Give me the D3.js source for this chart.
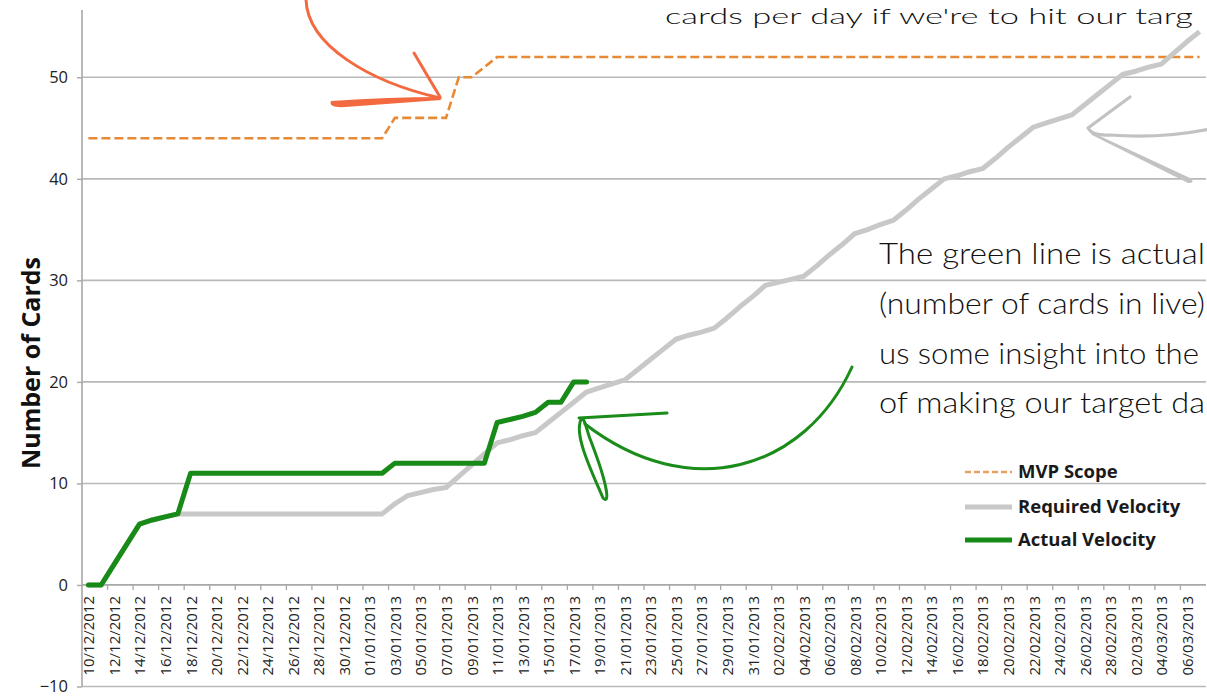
<!DOCTYPE html>
<html>
<head>
<meta charset="utf-8">
<script src="https://cdn.jsdelivr.net/npm/d3@7/dist/d3.min.js"></script>
<style>
  html, body { margin: 0; padding: 0; background: #fff; }
  svg { display: block; }
</style>
</head>
<body>
<svg id="chart" width="1207" height="696"></svg>
<script>
// categories: one per day, 10/12/2012 .. 07/03/2013
const days = d3.timeDay.range(new Date(2012, 11, 10), new Date(2013, 2, 8));

// series values (one per day)
const mvpScope = [
  44, 44, 44, 44, 44, 44, 44, 44, 44, 44, 44, 44, 44, 44, 44, 44, 44, 44, 44, 44, 44, 44, 44, 44,
  46, 46, 46, 46, 46, 50, 50, 51,
  52, 52, 52, 52, 52, 52, 52, 52, 52, 52, 52, 52, 52, 52, 52, 52, 52, 52, 52, 52, 52, 52, 52, 52,
  52, 52, 52, 52, 52, 52, 52, 52, 52, 52, 52, 52, 52, 52, 52, 52, 52, 52, 52, 52, 52, 52, 52, 52,
  52, 52, 52, 52, 52, 52, 52, 52
];

const requiredVelocity = [
  0, 0, 2, 4, 6, 6.4, 6.7, 7, 7, 7, 7, 7, 7, 7, 7, 7, 7, 7, 7, 7, 7, 7, 7, 7,
  8, 8.8, 9.1, 9.4, 9.6, 10.7, 11.8, 12.9, 14, 14.3, 14.7, 15, 16, 17, 18, 19,
  19.4, 19.8, 20.2, 21.2, 22.2, 23.2, 24.2, 24.6, 24.9, 25.3, 26.3, 27.4, 28.4, 29.5,
  29.8, 30.1, 30.4, 31.4, 32.5, 33.5, 34.6, 35, 35.5, 35.9, 36.9, 38, 39, 40,
  40.3, 40.7, 41, 42, 43.1, 44.1, 45.1, 45.5, 45.9, 46.3, 47.3, 48.3, 49.3, 50.3,
  50.6, 51, 51.3, 52.4, 53.5, 54.5
];

const actualVelocity = [
  0, 0, 2, 4, 6, 6.4, 6.7, 7, 11, 11, 11, 11, 11, 11, 11, 11, 11, 11, 11, 11, 11, 11, 11, 11,
  12, 12, 12, 12, 12, 12, 12, 12, 16, 16.3, 16.6, 17, 18, 18, 20, 20
];

const yTicks = [-10, 0, 10, 20, 30, 40, 50];
const legendNames = ['MVP Scope', 'Required Velocity', 'Actual Velocity'];

const svg = d3.select('#chart');
const left = 82, right = 1206;

const x = d3.scaleBand()
    .domain(days.map((d, i) => i))
    .range([left, right])
    .padding(0);
const cx = i => x(i) + x.bandwidth() / 2;

const y = d3.scaleLinear()
    .domain([-10, 50])
    .range([686.5, 77.3]);

const fmt = d3.timeFormat('%d/%m/%Y');

// gridlines
svg.append('g')
    .selectAll('line')
    .data(yTicks.filter(t => t !== 0))
    .enter()
    .append('line')
    .attr('x1', left)
    .attr('x2', right)
    .attr('y1', d => y(d))
    .attr('y2', d => y(d))
    .attr('stroke', '#b9b9b9')
    .attr('stroke-width', 1.6);

// y axis
const yAxis = svg.append('g')
    .attr('transform', `translate(${left},0)`)
    .call(d3.axisLeft(y).tickValues(yTicks).tickSize(5).tickPadding(9).tickFormat(d3.format('d')));
yAxis.select('.domain').remove();
yAxis.append('line')
    .attr('x1', 0).attr('x2', 0)
    .attr('y1', 10).attr('y2', y(-10))
    .attr('stroke', '#a8a8a8')
    .attr('stroke-width', 1.6);
yAxis.selectAll('.tick line').attr('stroke', '#a8a8a8').attr('stroke-width', 1.4);
yAxis.selectAll('.tick text')
    .attr('font-family', 'Open Sans, sans-serif')
    .attr('font-size', 16.5)
    .attr('fill', '#222');

// x axis at 0
const xg = svg.append('g');
xg.append('line')
    .attr('x1', left).attr('x2', right)
    .attr('y1', y(0)).attr('y2', y(0))
    .attr('stroke', '#a8a8a8')
    .attr('stroke-width', 1.8);
xg.selectAll('line.tick')
    .data(days.map((d, i) => i).filter(i => i % 2 === 0 && i > 0))
    .enter()
    .append('line')
    .attr('class', 'tick')
    .attr('x1', i => x(i)).attr('x2', i => x(i))
    .attr('y1', y(0)).attr('y2', y(0) + 5)
    .attr('stroke', '#a8a8a8')
    .attr('stroke-width', 1.3);
xg.selectAll('text')
    .data(days.map((d, i) => i).filter(i => i % 2 === 0))
    .enter()
    .append('text')
    .attr('transform', i => `translate(${cx(i) + 6},${y(0) + 11}) rotate(-90)`)
    .attr('text-anchor', 'end')
    .attr('font-family', 'Open Sans, sans-serif')
    .attr('font-size', 15)
    .attr('fill', '#222')
    .text(i => fmt(days[i]));

// y title
svg.append('text')
    .attr('transform', `translate(40,${363}) rotate(-90)`)
    .attr('text-anchor', 'middle')
    .attr('font-family', 'Open Sans, sans-serif')
    .attr('font-weight', 'bold')
    .attr('font-size', 25)
    .attr('fill', '#111')
    .text('Number of Cards');

// series
const line = d3.line()
    .defined(d => d != null)
    .x((d, i) => cx(i))
    .y(d => y(d));

svg.append('path')
    .datum(mvpScope)
    .attr('d', line)
    .attr('fill', 'none')
    .attr('stroke', '#e88a35')
    .attr('stroke-width', 2.6)
    .attr('stroke-dasharray', '9,4');

svg.append('path')
    .datum(requiredVelocity)
    .attr('d', line)
    .attr('fill', 'none')
    .attr('stroke', '#c8c8c8')
    .attr('stroke-width', 5)
    .attr('stroke-linejoin', 'round');

svg.append('path')
    .datum(actualVelocity)
    .attr('d', line)
    .attr('fill', 'none')
    .attr('stroke', '#178a17')
    .attr('stroke-width', 5)
    .attr('stroke-linejoin', 'round')
    .attr('stroke-linecap', 'round');

// legend
const legendStyles = [
    { stroke: '#e8a060', width: 2.4, dash: '6,3' },
    { stroke: '#c8c8c8', width: 5, dash: null },
    { stroke: '#178a17', width: 5, dash: null }
];
const legendY = [472, 507, 540];
const lg = svg.append('g').selectAll('g')
    .data(legendNames)
    .enter()
    .append('g')
    .attr('transform', (d, i) => `translate(965,${legendY[i]})`);
lg.append('line')
    .attr('x1', 0).attr('x2', 47)
    .attr('stroke', (d, i) => legendStyles[i].stroke)
    .attr('stroke-width', (d, i) => legendStyles[i].width)
    .attr('stroke-dasharray', (d, i) => legendStyles[i].dash);
lg.append('text')
    .attr('x', 53)
    .attr('dy', '0.35em')
    .attr('font-family', 'Open Sans, sans-serif')
    .attr('font-weight', 'bold')
    .attr('font-size', 18.5)
    .attr('fill', '#1a1a1a')
    .text(d => d);

// hand-drawn notes
const noteFont = 'Lato, sans-serif';
svg.append('text')
    .attr('x', 665).attr('y', 24)
    .attr('font-family', noteFont)
    .attr('font-weight', 300)
    .attr('font-size', 21)
    .attr('fill', '#111')
    .attr('textLength', 528)
    .attr('lengthAdjust', 'spacingAndGlyphs')
    .text("cards per day if we're to hit our targ");

const noteLines = ['The green line is actual', '(number of cards in live)', 'us some insight into the', 'of making our target da'];
const noteBase = [264, 314, 364, 413];
const noteLen = [326, 326, 320, 326];
svg.append('g').selectAll('text')
    .data(noteLines)
    .enter()
    .append('text')
    .attr('x', 879)
    .attr('y', (d, i) => noteBase[i])
    .attr('font-family', noteFont)
    .attr('font-weight', 300)
    .attr('font-size', 30)
    .attr('fill', '#111')
    .attr('textLength', (d, i) => noteLen[i])
    .attr('lengthAdjust', 'spacingAndGlyphs')
    .text(d => d);

// orange arrow
const orange = '#f46a40';
svg.append('path')
    .attr('d', 'M306,-2 C306,45 370,82 440,98')
    .attr('fill', 'none').attr('stroke', orange).attr('stroke-width', 3).attr('stroke-linecap', 'round');
svg.append('path')
    .attr('d', 'M414,53 L440,97')
    .attr('fill', 'none').attr('stroke', orange).attr('stroke-width', 3).attr('stroke-linecap', 'round');
svg.append('path')
    .attr('d', 'M331,101 Q328,108 345,107 L441,100 L439,97 Q390,97 331,101 Z')
    .attr('fill', orange);

// grey arrow
const grey = '#c2c2c2';
svg.append('path')
    .attr('d', 'M1130,97 L1088,128 Q1092,136 1110,135 Q1160,139 1210,129')
    .attr('fill', 'none').attr('stroke', grey).attr('stroke-width', 3.2).attr('stroke-linejoin', 'round').attr('stroke-linecap', 'round');
svg.append('path')
    .attr('d', 'M1089,131 L1190,178 Q1196,183 1188,183 L1092,135 Z')
    .attr('fill', grey);

// green arrow
const green = '#1a8c1a';
svg.append('path')
    .attr('d', 'M852,367 C805,470 690,505 585,424')
    .attr('fill', 'none').attr('stroke', green).attr('stroke-width', 3).attr('stroke-linecap', 'round');
svg.append('path')
    .attr('d', 'M579,418 L667,413')
    .attr('fill', 'none').attr('stroke', green).attr('stroke-width', 3).attr('stroke-linecap', 'round');
svg.append('path')
    .attr('d', 'M582,418 C572,432 592,472 603,498 C610,505 608,486 592,444 C586,430 586,421 582,418')
    .attr('fill', 'none').attr('stroke', green).attr('stroke-width', 3).attr('stroke-linejoin', 'round');
</script>
</body>
</html>
